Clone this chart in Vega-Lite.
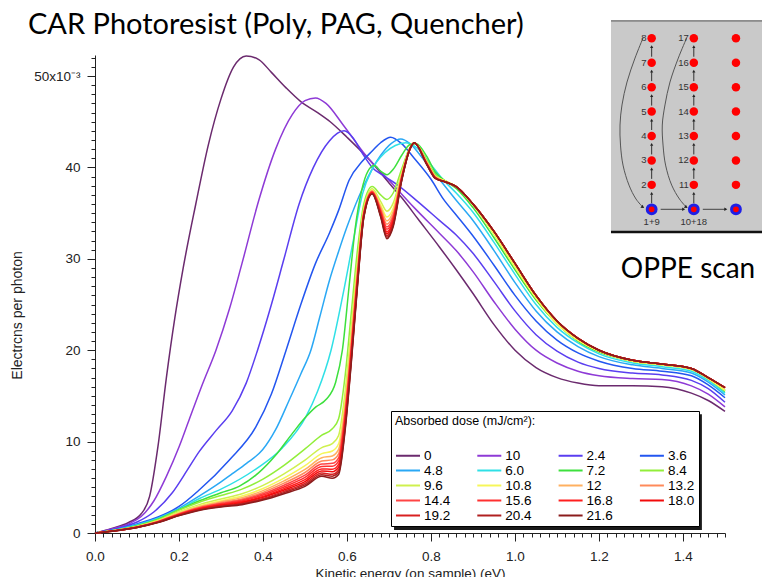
{
"$schema":"https://vega.github.io/schema/vega-lite/v6.json",
"width":630,"height":478,
"autosize":{"type":"none"},
"padding":{"left":95,"top":55,"right":37,"bottom":44},
"background":"white",
"config":{"view":{"stroke":null},"font":"Liberation Sans","axis":{"grid":false,"domainColor":"#222","tickColor":"#222","labelColor":"#222","titleColor":"#222","labelFont":"Liberation Sans","titleFont":"Liberation Sans"}},
"title":{"text":"CAR Photoresist (Poly, PAG, Quencher)","anchor":"start","frame":"group","dx":-67,"dy":40,"offset":20,"font":"Lato","fontSize":29,"fontWeight":"normal","color":"#000"},
"datasets":{
"curves":[
{"s":"0","x":0,"y":0},{"s":"0","x":0.04,"y":0.5},{"s":"0","x":0.08,"y":1.15},{"s":"0","x":0.11,"y":2.1},{"s":"0","x":0.13,"y":4},{"s":"0","x":0.15,"y":9.5},{"s":"0","x":0.17,"y":17},{"s":"0","x":0.19,"y":23.5},{"s":"0","x":0.21,"y":29},{"s":"0","x":0.24,"y":36},{"s":"0","x":0.27,"y":42.5},{"s":"0","x":0.3,"y":47.5},{"s":"0","x":0.33,"y":51},{"s":"0","x":0.36,"y":52.2},{"s":"0","x":0.39,"y":51.8},{"s":"0","x":0.42,"y":50.4},{"s":"0","x":0.455,"y":48.7},{"s":"0","x":0.49,"y":47.2},{"s":"0","x":0.53,"y":46},{"s":"0","x":0.56,"y":45},{"s":"0","x":0.6,"y":43.3},{"s":"0","x":0.65,"y":41},{"s":"0","x":0.7,"y":38.3},{"s":"0","x":0.73,"y":36.7},{"s":"0","x":0.77,"y":34.3},{"s":"0","x":0.82,"y":31.3},{"s":"0","x":0.86,"y":28.8},{"s":"0","x":0.9,"y":26.2},{"s":"0","x":0.95,"y":22.8},{"s":"0","x":1,"y":20},{"s":"0","x":1.05,"y":18.1},{"s":"0","x":1.1,"y":17},{"s":"0","x":1.15,"y":16.4},{"s":"0","x":1.2,"y":16.1},{"s":"0","x":1.28,"y":16.1},{"s":"0","x":1.35,"y":16},{"s":"0","x":1.42,"y":15.3},{"s":"0","x":1.46,"y":14.5},{"s":"0","x":1.5,"y":13.3},
{"s":"10","x":0,"y":0},{"s":"10","x":0.04,"y":0.45},{"s":"10","x":0.08,"y":1},{"s":"10","x":0.11,"y":1.8},{"s":"10","x":0.14,"y":3.5},{"s":"10","x":0.17,"y":6.2},{"s":"10","x":0.2,"y":9.4},{"s":"10","x":0.225,"y":12.5},{"s":"10","x":0.256,"y":16.3},{"s":"10","x":0.288,"y":20},{"s":"10","x":0.32,"y":24.5},{"s":"10","x":0.35,"y":29.5},{"s":"10","x":0.39,"y":36.4},{"s":"10","x":0.43,"y":42},{"s":"10","x":0.47,"y":45.8},{"s":"10","x":0.5,"y":47.3},{"s":"10","x":0.525,"y":47.6},{"s":"10","x":0.55,"y":47},{"s":"10","x":0.59,"y":44.7},{"s":"10","x":0.645,"y":41.3},{"s":"10","x":0.7,"y":38.6},{"s":"10","x":0.76,"y":35.6},{"s":"10","x":0.82,"y":32.8},{"s":"10","x":0.86,"y":30.9},{"s":"10","x":0.9,"y":28.6},{"s":"10","x":0.95,"y":25.3},{"s":"10","x":1,"y":22.3},{"s":"10","x":1.05,"y":20},{"s":"10","x":1.1,"y":18.6},{"s":"10","x":1.15,"y":17.7},{"s":"10","x":1.2,"y":17.2},{"s":"10","x":1.28,"y":16.9},{"s":"10","x":1.35,"y":16.8},{"s":"10","x":1.42,"y":16.1},{"s":"10","x":1.46,"y":15.2},{"s":"10","x":1.5,"y":13.8},
{"s":"2.4","x":0,"y":0},{"s":"2.4","x":0.05,"y":0.45},{"s":"2.4","x":0.1,"y":1.2},{"s":"2.4","x":0.14,"y":2.3},{"s":"2.4","x":0.184,"y":4.4},{"s":"2.4","x":0.22,"y":6.9},{"s":"2.4","x":0.248,"y":8.9},{"s":"2.4","x":0.288,"y":11.2},{"s":"2.4","x":0.327,"y":13.4},{"s":"2.4","x":0.36,"y":16.4},{"s":"2.4","x":0.387,"y":20},{"s":"2.4","x":0.42,"y":25},{"s":"2.4","x":0.45,"y":30},{"s":"2.4","x":0.486,"y":36},{"s":"2.4","x":0.52,"y":40},{"s":"2.4","x":0.558,"y":42.9},{"s":"2.4","x":0.593,"y":44},{"s":"2.4","x":0.615,"y":43.2},{"s":"2.4","x":0.637,"y":41.5},{"s":"2.4","x":0.66,"y":40},{"s":"2.4","x":0.69,"y":39},{"s":"2.4","x":0.72,"y":38.1},{"s":"2.4","x":0.77,"y":36.2},{"s":"2.4","x":0.82,"y":34.2},{"s":"2.4","x":0.86,"y":32.6},{"s":"2.4","x":0.9,"y":30.6},{"s":"2.4","x":0.95,"y":27.5},{"s":"2.4","x":1,"y":24.3},{"s":"2.4","x":1.05,"y":21.7},{"s":"2.4","x":1.1,"y":19.9},{"s":"2.4","x":1.15,"y":18.7},{"s":"2.4","x":1.2,"y":18},{"s":"2.4","x":1.28,"y":17.5},{"s":"2.4","x":1.35,"y":17.3},{"s":"2.4","x":1.42,"y":16.7},{"s":"2.4","x":1.46,"y":15.8},{"s":"2.4","x":1.5,"y":14.3},
{"s":"3.6","x":0,"y":0},{"s":"3.6","x":0.05,"y":0.4},{"s":"3.6","x":0.1,"y":1},{"s":"3.6","x":0.15,"y":1.75},{"s":"3.6","x":0.2,"y":2.9},{"s":"3.6","x":0.248,"y":4.7},{"s":"3.6","x":0.32,"y":8},{"s":"3.6","x":0.383,"y":11.6},{"s":"3.6","x":0.42,"y":15.2},{"s":"3.6","x":0.455,"y":20},{"s":"3.6","x":0.49,"y":25},{"s":"3.6","x":0.525,"y":29.5},{"s":"3.6","x":0.558,"y":32.8},{"s":"3.6","x":0.58,"y":35.3},{"s":"3.6","x":0.605,"y":38.6},{"s":"3.6","x":0.637,"y":40.7},{"s":"3.6","x":0.66,"y":41.8},{"s":"3.6","x":0.68,"y":42.7},{"s":"3.6","x":0.704,"y":43.3},{"s":"3.6","x":0.73,"y":42.6},{"s":"3.6","x":0.76,"y":41},{"s":"3.6","x":0.8,"y":38.7},{"s":"3.6","x":0.83,"y":36.5},{"s":"3.6","x":0.86,"y":34.8},{"s":"3.6","x":0.9,"y":32.5},{"s":"3.6","x":0.95,"y":29.3},{"s":"3.6","x":1,"y":26},{"s":"3.6","x":1.05,"y":23.2},{"s":"3.6","x":1.1,"y":21.1},{"s":"3.6","x":1.15,"y":19.7},{"s":"3.6","x":1.2,"y":18.8},{"s":"3.6","x":1.28,"y":18},{"s":"3.6","x":1.35,"y":17.7},{"s":"3.6","x":1.42,"y":17.2},{"s":"3.6","x":1.46,"y":16.2},{"s":"3.6","x":1.5,"y":14.8},
{"s":"4.8","x":0,"y":0},{"s":"4.8","x":0.05,"y":0.37},{"s":"4.8","x":0.1,"y":0.92},{"s":"4.8","x":0.15,"y":1.65},{"s":"4.8","x":0.2,"y":2.7},{"s":"4.8","x":0.25,"y":4.1},{"s":"4.8","x":0.3,"y":5.6},{"s":"4.8","x":0.327,"y":6.5},{"s":"4.8","x":0.36,"y":7.6},{"s":"4.8","x":0.399,"y":9.1},{"s":"4.8","x":0.43,"y":11.3},{"s":"4.8","x":0.462,"y":14.5},{"s":"4.8","x":0.49,"y":17.4},{"s":"4.8","x":0.514,"y":20},{"s":"4.8","x":0.535,"y":23.6},{"s":"4.8","x":0.558,"y":27.6},{"s":"4.8","x":0.58,"y":30.8},{"s":"4.8","x":0.6,"y":33.5},{"s":"4.8","x":0.64,"y":38},{"s":"4.8","x":0.68,"y":41.3},{"s":"4.8","x":0.705,"y":42.6},{"s":"4.8","x":0.728,"y":43.1},{"s":"4.8","x":0.75,"y":42.6},{"s":"4.8","x":0.78,"y":41},{"s":"4.8","x":0.82,"y":38.7},{"s":"4.8","x":0.86,"y":36.4},{"s":"4.8","x":0.9,"y":34.2},{"s":"4.8","x":0.95,"y":30.9},{"s":"4.8","x":1,"y":27.4},{"s":"4.8","x":1.05,"y":24.3},{"s":"4.8","x":1.1,"y":22},{"s":"4.8","x":1.15,"y":20.4},{"s":"4.8","x":1.2,"y":19.3},{"s":"4.8","x":1.28,"y":18.4},{"s":"4.8","x":1.35,"y":18},{"s":"4.8","x":1.42,"y":17.5},{"s":"4.8","x":1.46,"y":16.5},{"s":"4.8","x":1.5,"y":15.1},
{"s":"6.0","x":0,"y":0},{"s":"6.0","x":0.05,"y":0.34},{"s":"6.0","x":0.1,"y":0.86},{"s":"6.0","x":0.15,"y":1.58},{"s":"6.0","x":0.2,"y":2.6},{"s":"6.0","x":0.25,"y":3.8},{"s":"6.0","x":0.3,"y":4.8},{"s":"6.0","x":0.383,"y":7},{"s":"6.0","x":0.446,"y":9.3},{"s":"6.0","x":0.502,"y":12.7},{"s":"6.0","x":0.53,"y":15.5},{"s":"6.0","x":0.562,"y":20},{"s":"6.0","x":0.59,"y":26},{"s":"6.0","x":0.615,"y":32},{"s":"6.0","x":0.637,"y":37.1},{"s":"6.0","x":0.66,"y":39.8},{"s":"6.0","x":0.69,"y":41.6},{"s":"6.0","x":0.715,"y":42.4},{"s":"6.0","x":0.74,"y":42.7},{"s":"6.0","x":0.77,"y":42},{"s":"6.0","x":0.8,"y":40.3},{"s":"6.0","x":0.83,"y":38.6},{"s":"6.0","x":0.86,"y":37.2},{"s":"6.0","x":0.9,"y":35.1},{"s":"6.0","x":0.95,"y":31.8},{"s":"6.0","x":1,"y":28.3},{"s":"6.0","x":1.05,"y":25},{"s":"6.0","x":1.1,"y":22.5},{"s":"6.0","x":1.15,"y":20.8},{"s":"6.0","x":1.2,"y":19.6},{"s":"6.0","x":1.28,"y":18.6},{"s":"6.0","x":1.35,"y":18.2},{"s":"6.0","x":1.42,"y":17.7},{"s":"6.0","x":1.46,"y":16.7},{"s":"6.0","x":1.5,"y":15.3},
{"s":"7.2","x":0,"y":0},{"s":"7.2","x":0.05,"y":0.32},{"s":"7.2","x":0.1,"y":0.8},{"s":"7.2","x":0.15,"y":1.52},{"s":"7.2","x":0.2,"y":2.55},{"s":"7.2","x":0.25,"y":3.55},{"s":"7.2","x":0.3,"y":4.4},{"s":"7.2","x":0.343,"y":5.1},{"s":"7.2","x":0.39,"y":6.6},{"s":"7.2","x":0.43,"y":8.5},{"s":"7.2","x":0.47,"y":10.9},{"s":"7.2","x":0.5,"y":12.6},{"s":"7.2","x":0.526,"y":13.8},{"s":"7.2","x":0.55,"y":14.6},{"s":"7.2","x":0.573,"y":16.5},{"s":"7.2","x":0.589,"y":20},{"s":"7.2","x":0.605,"y":27},{"s":"7.2","x":0.62,"y":33.5},{"s":"7.2","x":0.635,"y":37.5},{"s":"7.2","x":0.65,"y":39.6},{"s":"7.2","x":0.665,"y":40.2},{"s":"7.2","x":0.68,"y":39.6},{"s":"7.2","x":0.695,"y":39.2},{"s":"7.2","x":0.71,"y":39.8},{"s":"7.2","x":0.73,"y":41.3},{"s":"7.2","x":0.75,"y":42.5},{"s":"7.2","x":0.765,"y":42.6},{"s":"7.2","x":0.79,"y":41.2},{"s":"7.2","x":0.81,"y":39.5},{"s":"7.2","x":0.835,"y":38.5},{"s":"7.2","x":0.86,"y":37.7},{"s":"7.2","x":0.9,"y":35.6},{"s":"7.2","x":0.95,"y":32.3},{"s":"7.2","x":1,"y":28.8},{"s":"7.2","x":1.05,"y":25.5},{"s":"7.2","x":1.1,"y":22.9},{"s":"7.2","x":1.15,"y":21},{"s":"7.2","x":1.2,"y":19.8},{"s":"7.2","x":1.28,"y":18.8},{"s":"7.2","x":1.35,"y":18.4},{"s":"7.2","x":1.42,"y":17.9},{"s":"7.2","x":1.46,"y":16.9},{"s":"7.2","x":1.5,"y":15.5},
{"s":"8.4","x":0,"y":0},{"s":"8.4","x":0.05,"y":0.3},{"s":"8.4","x":0.1,"y":0.75},{"s":"8.4","x":0.15,"y":1.45},{"s":"8.4","x":0.2,"y":2.5},{"s":"8.4","x":0.25,"y":3.4},{"s":"8.4","x":0.3,"y":4.1},{"s":"8.4","x":0.35,"y":4.8},{"s":"8.4","x":0.4,"y":5.9},{"s":"8.4","x":0.45,"y":7.4},{"s":"8.4","x":0.5,"y":9.2},{"s":"8.4","x":0.54,"y":10.7},{"s":"8.4","x":0.565,"y":11.4},{"s":"8.4","x":0.58,"y":12.5},{"s":"8.4","x":0.595,"y":17},{"s":"8.4","x":0.61,"y":24},{"s":"8.4","x":0.625,"y":31},{"s":"8.4","x":0.64,"y":36},{"s":"8.4","x":0.66,"y":37.9},{"s":"8.4","x":0.68,"y":37},{"s":"8.4","x":0.695,"y":36.5},{"s":"8.4","x":0.71,"y":37.2},{"s":"8.4","x":0.73,"y":39.8},{"s":"8.4","x":0.75,"y":42.2},{"s":"8.4","x":0.76,"y":42.7},{"s":"8.4","x":0.79,"y":40.8},{"s":"8.4","x":0.81,"y":39.2},{"s":"8.4","x":0.835,"y":38.5},{"s":"8.4","x":0.86,"y":37.9},{"s":"8.4","x":0.9,"y":35.9},{"s":"8.4","x":0.95,"y":32.7},{"s":"8.4","x":1,"y":29.1},{"s":"8.4","x":1.05,"y":25.7},{"s":"8.4","x":1.1,"y":22.9},{"s":"8.4","x":1.15,"y":21.1},{"s":"8.4","x":1.2,"y":19.9},{"s":"8.4","x":1.28,"y":18.8},{"s":"8.4","x":1.35,"y":18.4},{"s":"8.4","x":1.42,"y":17.9},{"s":"8.4","x":1.46,"y":16.9},{"s":"8.4","x":1.5,"y":15.6},
{"s":"9.6","x":0,"y":0},{"s":"9.6","x":0.05,"y":0.29},{"s":"9.6","x":0.1,"y":0.71},{"s":"9.6","x":0.15,"y":1.36},{"s":"9.6","x":0.2,"y":2.32},{"s":"9.6","x":0.25,"y":3.13},{"s":"9.6","x":0.3,"y":3.73},{"s":"9.6","x":0.35,"y":4.29},{"s":"9.6","x":0.4,"y":5.21},{"s":"9.6","x":0.45,"y":6.47},{"s":"9.6","x":0.5,"y":7.97},{"s":"9.6","x":0.54,"y":9.35},{"s":"9.6","x":0.565,"y":9.78},{"s":"9.6","x":0.58,"y":10.67},{"s":"9.6","x":0.595,"y":15.2},{"s":"9.6","x":0.61,"y":22.35},{"s":"9.6","x":0.625,"y":29.8},{"s":"9.6","x":0.64,"y":35.55},{"s":"9.6","x":0.66,"y":37.66},{"s":"9.6","x":0.68,"y":36.28},{"s":"9.6","x":0.695,"y":35.21},{"s":"9.6","x":0.71,"y":36.09},{"s":"9.6","x":0.73,"y":39.41},{"s":"9.6","x":0.75,"y":42.14},{"s":"9.6","x":0.76,"y":42.7},{"s":"9.6","x":0.79,"y":40.65},{"s":"9.6","x":0.81,"y":39.08},{"s":"9.6","x":0.835,"y":38.5},{"s":"9.6","x":0.86,"y":37.9},{"s":"9.6","x":0.9,"y":35.9},{"s":"9.6","x":0.95,"y":32.7},{"s":"9.6","x":1,"y":29.1},{"s":"9.6","x":1.05,"y":25.7},{"s":"9.6","x":1.1,"y":22.9},{"s":"9.6","x":1.15,"y":21.1},{"s":"9.6","x":1.2,"y":19.9},{"s":"9.6","x":1.28,"y":18.8},{"s":"9.6","x":1.35,"y":18.4},{"s":"9.6","x":1.42,"y":17.9},{"s":"9.6","x":1.46,"y":16.9},{"s":"9.6","x":1.5,"y":15.6},
{"s":"10.8","x":0,"y":0},{"s":"10.8","x":0.05,"y":0.28},{"s":"10.8","x":0.1,"y":0.68},{"s":"10.8","x":0.15,"y":1.32},{"s":"10.8","x":0.2,"y":2.23},{"s":"10.8","x":0.25,"y":2.99},{"s":"10.8","x":0.3,"y":3.54},{"s":"10.8","x":0.35,"y":4.04},{"s":"10.8","x":0.4,"y":4.87},{"s":"10.8","x":0.45,"y":6},{"s":"10.8","x":0.5,"y":7.36},{"s":"10.8","x":0.54,"y":8.68},{"s":"10.8","x":0.565,"y":8.97},{"s":"10.8","x":0.58,"y":9.76},{"s":"10.8","x":0.595,"y":14.3},{"s":"10.8","x":0.61,"y":21.5},{"s":"10.8","x":0.625,"y":29.2},{"s":"10.8","x":0.64,"y":35.3},{"s":"10.8","x":0.66,"y":37.54},{"s":"10.8","x":0.68,"y":35.92},{"s":"10.8","x":0.695,"y":34.57},{"s":"10.8","x":0.71,"y":35.54},{"s":"10.8","x":0.73,"y":39.22},{"s":"10.8","x":0.75,"y":42.11},{"s":"10.8","x":0.76,"y":42.7},{"s":"10.8","x":0.79,"y":40.58},{"s":"10.8","x":0.81,"y":39.02},{"s":"10.8","x":0.835,"y":38.5},{"s":"10.8","x":0.86,"y":37.9},{"s":"10.8","x":0.9,"y":35.9},{"s":"10.8","x":0.95,"y":32.7},{"s":"10.8","x":1,"y":29.1},{"s":"10.8","x":1.05,"y":25.7},{"s":"10.8","x":1.1,"y":22.9},{"s":"10.8","x":1.15,"y":21.1},{"s":"10.8","x":1.2,"y":19.9},{"s":"10.8","x":1.28,"y":18.8},{"s":"10.8","x":1.35,"y":18.4},{"s":"10.8","x":1.42,"y":17.9},{"s":"10.8","x":1.46,"y":16.9},{"s":"10.8","x":1.5,"y":15.6},
{"s":"12","x":0,"y":0},{"s":"12","x":0.05,"y":0.27},{"s":"12","x":0.1,"y":0.67},{"s":"12","x":0.15,"y":1.29},{"s":"12","x":0.2,"y":2.17},{"s":"12","x":0.25,"y":2.9},{"s":"12","x":0.3,"y":3.41},{"s":"12","x":0.35,"y":3.87},{"s":"12","x":0.4,"y":4.64},{"s":"12","x":0.45,"y":5.7},{"s":"12","x":0.5,"y":6.95},{"s":"12","x":0.54,"y":8.23},{"s":"12","x":0.565,"y":8.43},{"s":"12","x":0.58,"y":9.15},{"s":"12","x":0.595,"y":13.7},{"s":"12","x":0.61,"y":21},{"s":"12","x":0.625,"y":28.8},{"s":"12","x":0.64,"y":35.2},{"s":"12","x":0.66,"y":37.46},{"s":"12","x":0.68,"y":35.68},{"s":"12","x":0.695,"y":34.14},{"s":"12","x":0.71,"y":35.17},{"s":"12","x":0.73,"y":39.09},{"s":"12","x":0.75,"y":42.09},{"s":"12","x":0.76,"y":42.7},{"s":"12","x":0.79,"y":40.53},{"s":"12","x":0.81,"y":38.98},{"s":"12","x":0.835,"y":38.4},{"s":"12","x":0.86,"y":37.9},{"s":"12","x":0.9,"y":36},{"s":"12","x":0.95,"y":33},{"s":"12","x":1,"y":29.5},{"s":"12","x":1.05,"y":26},{"s":"12","x":1.1,"y":23.2},{"s":"12","x":1.15,"y":21.3},{"s":"12","x":1.2,"y":20},{"s":"12","x":1.28,"y":18.9},{"s":"12","x":1.35,"y":18.5},{"s":"12","x":1.42,"y":18},{"s":"12","x":1.46,"y":17},{"s":"12","x":1.5,"y":15.9},
{"s":"13.2","x":0,"y":0},{"s":"13.2","x":0.05,"y":0.27},{"s":"13.2","x":0.1,"y":0.66},{"s":"13.2","x":0.15,"y":1.26},{"s":"13.2","x":0.2,"y":2.12},{"s":"13.2","x":0.25,"y":2.83},{"s":"13.2","x":0.3,"y":3.31},{"s":"13.2","x":0.35,"y":3.73},{"s":"13.2","x":0.4,"y":4.45},{"s":"13.2","x":0.45,"y":5.45},{"s":"13.2","x":0.5,"y":6.62},{"s":"13.2","x":0.54,"y":7.87},{"s":"13.2","x":0.565,"y":8},{"s":"13.2","x":0.58,"y":8.66},{"s":"13.2","x":0.595,"y":13.2},{"s":"13.2","x":0.61,"y":20.5},{"s":"13.2","x":0.625,"y":28.5},{"s":"13.2","x":0.64,"y":35.05},{"s":"13.2","x":0.66,"y":37.4},{"s":"13.2","x":0.68,"y":35.49},{"s":"13.2","x":0.695,"y":33.79},{"s":"13.2","x":0.71,"y":34.87},{"s":"13.2","x":0.73,"y":38.98},{"s":"13.2","x":0.75,"y":42.07},{"s":"13.2","x":0.76,"y":42.7},{"s":"13.2","x":0.79,"y":40.49},{"s":"13.2","x":0.81,"y":38.95},{"s":"13.2","x":0.835,"y":38.4},{"s":"13.2","x":0.86,"y":37.9},{"s":"13.2","x":0.9,"y":36},{"s":"13.2","x":0.95,"y":33},{"s":"13.2","x":1,"y":29.5},{"s":"13.2","x":1.05,"y":26},{"s":"13.2","x":1.1,"y":23.2},{"s":"13.2","x":1.15,"y":21.3},{"s":"13.2","x":1.2,"y":20},{"s":"13.2","x":1.28,"y":18.9},{"s":"13.2","x":1.35,"y":18.5},{"s":"13.2","x":1.42,"y":18},{"s":"13.2","x":1.46,"y":17},{"s":"13.2","x":1.5,"y":15.9},
{"s":"14.4","x":0,"y":0},{"s":"14.4","x":0.05,"y":0.27},{"s":"14.4","x":0.1,"y":0.65},{"s":"14.4","x":0.15,"y":1.24},{"s":"14.4","x":0.2,"y":2.08},{"s":"14.4","x":0.25,"y":2.77},{"s":"14.4","x":0.3,"y":3.23},{"s":"14.4","x":0.35,"y":3.61},{"s":"14.4","x":0.4,"y":4.29},{"s":"14.4","x":0.45,"y":5.23},{"s":"14.4","x":0.5,"y":6.33},{"s":"14.4","x":0.54,"y":7.55},{"s":"14.4","x":0.565,"y":7.62},{"s":"14.4","x":0.58,"y":8.23},{"s":"14.4","x":0.595,"y":12.8},{"s":"14.4","x":0.61,"y":20.15},{"s":"14.4","x":0.625,"y":28.2},{"s":"14.4","x":0.64,"y":34.95},{"s":"14.4","x":0.66,"y":37.34},{"s":"14.4","x":0.68,"y":35.32},{"s":"14.4","x":0.695,"y":33.49},{"s":"14.4","x":0.71,"y":34.61},{"s":"14.4","x":0.73,"y":38.89},{"s":"14.4","x":0.75,"y":42.06},{"s":"14.4","x":0.76,"y":42.7},{"s":"14.4","x":0.79,"y":40.45},{"s":"14.4","x":0.81,"y":38.92},{"s":"14.4","x":0.835,"y":38.4},{"s":"14.4","x":0.86,"y":37.9},{"s":"14.4","x":0.9,"y":36},{"s":"14.4","x":0.95,"y":33},{"s":"14.4","x":1,"y":29.5},{"s":"14.4","x":1.05,"y":26},{"s":"14.4","x":1.1,"y":23.2},{"s":"14.4","x":1.15,"y":21.3},{"s":"14.4","x":1.2,"y":20},{"s":"14.4","x":1.28,"y":18.9},{"s":"14.4","x":1.35,"y":18.5},{"s":"14.4","x":1.42,"y":18},{"s":"14.4","x":1.46,"y":17},{"s":"14.4","x":1.5,"y":15.9},
{"s":"15.6","x":0,"y":0},{"s":"15.6","x":0.05,"y":0.26},{"s":"15.6","x":0.1,"y":0.64},{"s":"15.6","x":0.15,"y":1.22},{"s":"15.6","x":0.2,"y":2.04},{"s":"15.6","x":0.25,"y":2.72},{"s":"15.6","x":0.3,"y":3.15},{"s":"15.6","x":0.35,"y":3.51},{"s":"15.6","x":0.4,"y":4.15},{"s":"15.6","x":0.45,"y":5.04},{"s":"15.6","x":0.5,"y":6.08},{"s":"15.6","x":0.54,"y":7.28},{"s":"15.6","x":0.565,"y":7.3},{"s":"15.6","x":0.58,"y":7.86},{"s":"15.6","x":0.595,"y":12.4},{"s":"15.6","x":0.61,"y":19.8},{"s":"15.6","x":0.625,"y":28},{"s":"15.6","x":0.64,"y":34.9},{"s":"15.6","x":0.66,"y":37.29},{"s":"15.6","x":0.68,"y":35.18},{"s":"15.6","x":0.695,"y":33.23},{"s":"15.6","x":0.71,"y":34.39},{"s":"15.6","x":0.73,"y":38.81},{"s":"15.6","x":0.75,"y":42.05},{"s":"15.6","x":0.76,"y":42.7},{"s":"15.6","x":0.79,"y":40.42},{"s":"15.6","x":0.81,"y":38.9},{"s":"15.6","x":0.835,"y":38.4},{"s":"15.6","x":0.86,"y":37.9},{"s":"15.6","x":0.9,"y":36},{"s":"15.6","x":0.95,"y":33},{"s":"15.6","x":1,"y":29.5},{"s":"15.6","x":1.05,"y":26},{"s":"15.6","x":1.1,"y":23.2},{"s":"15.6","x":1.15,"y":21.3},{"s":"15.6","x":1.2,"y":20},{"s":"15.6","x":1.28,"y":18.9},{"s":"15.6","x":1.35,"y":18.5},{"s":"15.6","x":1.42,"y":18},{"s":"15.6","x":1.46,"y":17},{"s":"15.6","x":1.5,"y":15.9},
{"s":"16.8","x":0,"y":0},{"s":"16.8","x":0.05,"y":0.26},{"s":"16.8","x":0.1,"y":0.63},{"s":"16.8","x":0.15,"y":1.2},{"s":"16.8","x":0.2,"y":2.01},{"s":"16.8","x":0.25,"y":2.66},{"s":"16.8","x":0.3,"y":3.08},{"s":"16.8","x":0.35,"y":3.41},{"s":"16.8","x":0.4,"y":4.01},{"s":"16.8","x":0.45,"y":4.86},{"s":"16.8","x":0.5,"y":5.84},{"s":"16.8","x":0.54,"y":7.01},{"s":"16.8","x":0.565,"y":6.97},{"s":"16.8","x":0.58,"y":7.5},{"s":"16.8","x":0.595,"y":12.1},{"s":"16.8","x":0.61,"y":19.5},{"s":"16.8","x":0.625,"y":27.7},{"s":"16.8","x":0.64,"y":34.8},{"s":"16.8","x":0.66,"y":37.24},{"s":"16.8","x":0.68,"y":35.03},{"s":"16.8","x":0.695,"y":32.97},{"s":"16.8","x":0.71,"y":34.17},{"s":"16.8","x":0.73,"y":38.73},{"s":"16.8","x":0.75,"y":42.04},{"s":"16.8","x":0.76,"y":42.7},{"s":"16.8","x":0.79,"y":40.39},{"s":"16.8","x":0.81,"y":38.87},{"s":"16.8","x":0.835,"y":38.4},{"s":"16.8","x":0.86,"y":37.9},{"s":"16.8","x":0.9,"y":36},{"s":"16.8","x":0.95,"y":33},{"s":"16.8","x":1,"y":29.5},{"s":"16.8","x":1.05,"y":26},{"s":"16.8","x":1.1,"y":23.2},{"s":"16.8","x":1.15,"y":21.3},{"s":"16.8","x":1.2,"y":20},{"s":"16.8","x":1.28,"y":18.9},{"s":"16.8","x":1.35,"y":18.5},{"s":"16.8","x":1.42,"y":18},{"s":"16.8","x":1.46,"y":17},{"s":"16.8","x":1.5,"y":15.9},
{"s":"18.0","x":0,"y":0},{"s":"18.0","x":0.05,"y":0.26},{"s":"18.0","x":0.1,"y":0.62},{"s":"18.0","x":0.15,"y":1.19},{"s":"18.0","x":0.2,"y":1.98},{"s":"18.0","x":0.25,"y":2.62},{"s":"18.0","x":0.3,"y":3.01},{"s":"18.0","x":0.35,"y":3.32},{"s":"18.0","x":0.4,"y":3.9},{"s":"18.0","x":0.45,"y":4.7},{"s":"18.0","x":0.5,"y":5.63},{"s":"18.0","x":0.54,"y":6.79},{"s":"18.0","x":0.565,"y":6.7},{"s":"18.0","x":0.58,"y":7.19},{"s":"18.0","x":0.595,"y":11.8},{"s":"18.0","x":0.61,"y":19.2},{"s":"18.0","x":0.625,"y":27.5},{"s":"18.0","x":0.64,"y":34.7},{"s":"18.0","x":0.66,"y":37.2},{"s":"18.0","x":0.68,"y":34.91},{"s":"18.0","x":0.695,"y":32.76},{"s":"18.0","x":0.71,"y":33.98},{"s":"18.0","x":0.73,"y":38.67},{"s":"18.0","x":0.75,"y":42.03},{"s":"18.0","x":0.76,"y":42.7},{"s":"18.0","x":0.79,"y":40.37},{"s":"18.0","x":0.81,"y":38.85},{"s":"18.0","x":0.835,"y":38.4},{"s":"18.0","x":0.86,"y":37.9},{"s":"18.0","x":0.9,"y":36},{"s":"18.0","x":0.95,"y":33},{"s":"18.0","x":1,"y":29.5},{"s":"18.0","x":1.05,"y":26},{"s":"18.0","x":1.1,"y":23.2},{"s":"18.0","x":1.15,"y":21.3},{"s":"18.0","x":1.2,"y":20},{"s":"18.0","x":1.28,"y":18.9},{"s":"18.0","x":1.35,"y":18.5},{"s":"18.0","x":1.42,"y":18},{"s":"18.0","x":1.46,"y":17},{"s":"18.0","x":1.5,"y":15.9},
{"s":"19.2","x":0,"y":0},{"s":"19.2","x":0.05,"y":0.25},{"s":"19.2","x":0.1,"y":0.61},{"s":"19.2","x":0.15,"y":1.17},{"s":"19.2","x":0.2,"y":1.95},{"s":"19.2","x":0.25,"y":2.57},{"s":"19.2","x":0.3,"y":2.95},{"s":"19.2","x":0.35,"y":3.24},{"s":"19.2","x":0.4,"y":3.78},{"s":"19.2","x":0.45,"y":4.55},{"s":"19.2","x":0.5,"y":5.43},{"s":"19.2","x":0.54,"y":6.56},{"s":"19.2","x":0.565,"y":6.43},{"s":"19.2","x":0.58,"y":6.89},{"s":"19.2","x":0.595,"y":11.5},{"s":"19.2","x":0.61,"y":18.9},{"s":"19.2","x":0.625,"y":27.3},{"s":"19.2","x":0.64,"y":34.6},{"s":"19.2","x":0.66,"y":37.16},{"s":"19.2","x":0.68,"y":34.79},{"s":"19.2","x":0.695,"y":32.54},{"s":"19.2","x":0.71,"y":33.8},{"s":"19.2","x":0.73,"y":38.6},{"s":"19.2","x":0.75,"y":42.02},{"s":"19.2","x":0.76,"y":42.7},{"s":"19.2","x":0.79,"y":40.34},{"s":"19.2","x":0.81,"y":38.83},{"s":"19.2","x":0.835,"y":38.4},{"s":"19.2","x":0.86,"y":37.9},{"s":"19.2","x":0.9,"y":36},{"s":"19.2","x":0.95,"y":33},{"s":"19.2","x":1,"y":29.5},{"s":"19.2","x":1.05,"y":26},{"s":"19.2","x":1.1,"y":23.2},{"s":"19.2","x":1.15,"y":21.3},{"s":"19.2","x":1.2,"y":20},{"s":"19.2","x":1.28,"y":18.9},{"s":"19.2","x":1.35,"y":18.5},{"s":"19.2","x":1.42,"y":18},{"s":"19.2","x":1.46,"y":17},{"s":"19.2","x":1.5,"y":15.9},
{"s":"20.4","x":0,"y":0},{"s":"20.4","x":0.05,"y":0.25},{"s":"20.4","x":0.1,"y":0.61},{"s":"20.4","x":0.15,"y":1.16},{"s":"20.4","x":0.2,"y":1.92},{"s":"20.4","x":0.25,"y":2.54},{"s":"20.4","x":0.3,"y":2.9},{"s":"20.4","x":0.35,"y":3.17},{"s":"20.4","x":0.4,"y":3.69},{"s":"20.4","x":0.45,"y":4.42},{"s":"20.4","x":0.5,"y":5.26},{"s":"20.4","x":0.54,"y":6.38},{"s":"20.4","x":0.565,"y":6.22},{"s":"20.4","x":0.58,"y":6.64},{"s":"20.4","x":0.595,"y":11.2},{"s":"20.4","x":0.61,"y":18.7},{"s":"20.4","x":0.625,"y":27.2},{"s":"20.4","x":0.64,"y":34.55},{"s":"20.4","x":0.66,"y":37.13},{"s":"20.4","x":0.68,"y":34.7},{"s":"20.4","x":0.695,"y":32.37},{"s":"20.4","x":0.71,"y":33.65},{"s":"20.4","x":0.73,"y":38.55},{"s":"20.4","x":0.75,"y":42.01},{"s":"20.4","x":0.76,"y":42.7},{"s":"20.4","x":0.79,"y":40.32},{"s":"20.4","x":0.81,"y":38.82},{"s":"20.4","x":0.835,"y":38.4},{"s":"20.4","x":0.86,"y":37.9},{"s":"20.4","x":0.9,"y":36},{"s":"20.4","x":0.95,"y":33},{"s":"20.4","x":1,"y":29.5},{"s":"20.4","x":1.05,"y":26},{"s":"20.4","x":1.1,"y":23.2},{"s":"20.4","x":1.15,"y":21.3},{"s":"20.4","x":1.2,"y":20},{"s":"20.4","x":1.28,"y":18.9},{"s":"20.4","x":1.35,"y":18.5},{"s":"20.4","x":1.42,"y":18},{"s":"20.4","x":1.46,"y":17},{"s":"20.4","x":1.5,"y":15.9},
{"s":"21.6","x":0,"y":0},{"s":"21.6","x":0.05,"y":0.25},{"s":"21.6","x":0.1,"y":0.6},{"s":"21.6","x":0.15,"y":1.15},{"s":"21.6","x":0.2,"y":1.9},{"s":"21.6","x":0.25,"y":2.5},{"s":"21.6","x":0.3,"y":2.85},{"s":"21.6","x":0.35,"y":3.1},{"s":"21.6","x":0.4,"y":3.6},{"s":"21.6","x":0.45,"y":4.3},{"s":"21.6","x":0.5,"y":5.1},{"s":"21.6","x":0.54,"y":6.2},{"s":"21.6","x":0.565,"y":6},{"s":"21.6","x":0.58,"y":6.4},{"s":"21.6","x":0.595,"y":11},{"s":"21.6","x":0.61,"y":18.5},{"s":"21.6","x":0.625,"y":27},{"s":"21.6","x":0.64,"y":34.5},{"s":"21.6","x":0.66,"y":37.1},{"s":"21.6","x":0.68,"y":34.6},{"s":"21.6","x":0.695,"y":32.2},{"s":"21.6","x":0.71,"y":33.5},{"s":"21.6","x":0.73,"y":38.5},{"s":"21.6","x":0.75,"y":42},{"s":"21.6","x":0.76,"y":42.7},{"s":"21.6","x":0.79,"y":40.3},{"s":"21.6","x":0.81,"y":38.8},{"s":"21.6","x":0.835,"y":38.4},{"s":"21.6","x":0.86,"y":37.9},{"s":"21.6","x":0.9,"y":36},{"s":"21.6","x":0.95,"y":33},{"s":"21.6","x":1,"y":29.5},{"s":"21.6","x":1.05,"y":26},{"s":"21.6","x":1.1,"y":23.2},{"s":"21.6","x":1.15,"y":21.3},{"s":"21.6","x":1.2,"y":20},{"s":"21.6","x":1.28,"y":18.9},{"s":"21.6","x":1.35,"y":18.5},{"s":"21.6","x":1.42,"y":18},{"s":"21.6","x":1.46,"y":17},{"s":"21.6","x":1.5,"y":15.9}
],
"dots":[
{"c":1,"r":1,"t":"1+9"},{"c":1,"r":2,"t":"2"},{"c":1,"r":3,"t":"3"},{"c":1,"r":4,"t":"4"},{"c":1,"r":5,"t":"5"},{"c":1,"r":6,"t":"6"},{"c":1,"r":7,"t":"7"},{"c":1,"r":8,"t":"8"},
{"c":2,"r":1,"t":"10+18"},{"c":2,"r":2,"t":"11"},{"c":2,"r":3,"t":"12"},{"c":2,"r":4,"t":"13"},{"c":2,"r":5,"t":"14"},{"c":2,"r":6,"t":"15"},{"c":2,"r":7,"t":"16"},{"c":2,"r":8,"t":"17"},
{"c":3,"r":1,"t":""},{"c":3,"r":2,"t":""},{"c":3,"r":3,"t":""},{"c":3,"r":4,"t":""},{"c":3,"r":5,"t":""},{"c":3,"r":6,"t":""},{"c":3,"r":7,"t":""},{"c":3,"r":8,"t":""}
],
"arcs":[
{"a":1,"c":0.795,"r":8.01},{"a":1,"c":0.605,"r":7.19},{"a":1,"c":0.415,"r":6.21},{"a":1,"c":0.296,"r":5.27},{"a":1,"c":0.249,"r":4.45},{"a":1,"c":0.261,"r":3.63},{"a":1,"c":0.32,"r":2.81},{"a":1,"c":0.462,"r":1.99},{"a":1,"c":0.629,"r":1.42},{"a":1,"c":0.79,"r":1.09},
{"a":2,"c":1.83,"r":8.01},{"a":2,"c":1.632,"r":7.19},{"a":2,"c":1.435,"r":6.21},{"a":2,"c":1.316,"r":5.27},{"a":2,"c":1.252,"r":4.45},{"a":2,"c":1.27,"r":3.63},{"a":2,"c":1.33,"r":2.81},{"a":2,"c":1.475,"r":1.99},{"a":2,"c":1.66,"r":1.42},{"a":2,"c":1.82,"r":1.09}
]
},
"layer":[
{
"layer":[
{"data":{"values":[{}]},"mark":{"type":"rect","color":"#1a1a1a"},
"encoding":{
"x":{"datum":0.712,"type":"quantitative","scale":{"domain":[0,1.5],"nice":false,"zero":false},"axis":{"orient":"bottom","values":[0,0.2,0.4,0.6,0.8,1,1.2,1.4],"format":".1f","tickSize":8,"domain":false,"labelFontSize":13.5,"labelPadding":8,"labelFlush":false,"labelOverlap":false,"title":"Kinetic energy (on sample) (eV)","titleFontSize":13.5,"titleFontWeight":"normal","titleY":33,"titleBaseline":"top","grid":false}},
"x2":{"datum":1.445},
"y":{"datum":0.33,"type":"quantitative","scale":{"domain":[0,52.3],"nice":false,"zero":false},"axis":{"orient":"left","values":[0,10,20,30,40,50],"tickSize":8,"domain":false,"labelFontSize":13.5,"labelPadding":7,"labelOverlap":false,"labelExpr":"datum.value === 50 ? '50x10⁻³' : datum.label","title":"Electrcns per photon","titleFontSize":14,"titleFontWeight":"normal","titleX":-78,"titleY":260,"titleAngle":-90,"titleAlign":"center","titleBaseline":"middle","grid":false}},
"y2":{"datum":13.0}}},
{"data":{"name":"curves"},"mark":{"type":"line","interpolate":"monotone","strokeWidth":1.5},
"encoding":{
"x":{"field":"x","type":"quantitative","scale":{"domain":[0,1.5],"nice":false,"zero":false},"axis":{"orient":"bottom","tickCount":75,"tickSize":4,"labels":false,"title":null,"grid":false}},
"y":{"field":"y","type":"quantitative","scale":{"domain":[0,52.3],"nice":false,"zero":false},"axis":{"orient":"left","tickCount":52,"tickSize":4,"labels":false,"title":null,"grid":false}},
"color":{"field":"s","type":"nominal",
"scale":{"domain":["0","10","2.4","3.6","4.8","6.0","7.2","8.4","9.6","10.8","12","13.2","14.4","15.6","16.8","18.0","19.2","20.4","21.6"],
"range":["#6b2a6e","#8e3ad6","#5a3ef0","#2356f0","#2aa8f5","#2fe0e6","#3de03d","#92ee3a","#cff04e","#f6f65a","#ffb060","#ff8a5a","#ff4444","#ff3030","#ff1e1e","#f20a0a","#d82020","#b02020","#8b1c1c"]},
"legend":{"orient":"none","legendX":296,"legendY":356,"direction":"horizontal","title":"Absorbed dose (mJ/cm²):","titleFont":"Liberation Sans","titleFontSize":12.5,"titleFontWeight":"normal","titleColor":"#000","titlePadding":21,"columns":4,"gridAlign":"all","columnPadding":22.3,"rowPadding":1,"symbolType":"M-1,0H3","symbolSize":144,"symbolStrokeWidth":2,"labelFont":"Liberation Sans","labelFontSize":13.5,"labelColor":"#000","labelOffset":15,"fillColor":"#ffffff","strokeColor":"#000000","padding":4,"cornerRadius":0}}}}
],
"resolve":{"axis":{"x":"independent","y":"independent"}}
},
{
"layer":[
{"data":{"values":[{}]},"mark":{"type":"rect","color":"#c9c9c9"},
"encoding":{"x":{"datum":0.035,"type":"quantitative","scale":{"domain":[-12.207,2.74],"nice":false,"zero":false},"axis":null},"x2":{"datum":3.7},"y":{"datum":0.07,"type":"quantitative","scale":{"domain":[-12.25,7.316],"nice":false,"zero":false},"axis":null},"y2":{"datum":8.71}}},
{"data":{"values":[{}]},"mark":{"type":"rule","color":"#666","strokeWidth":1.2},
"encoding":{"x":{"datum":0.035,"type":"quantitative","scale":{"domain":[-12.207,2.74],"nice":false,"zero":false},"axis":null},"x2":{"datum":3.7},"y":{"datum":8.71,"type":"quantitative","scale":{"domain":[-12.25,7.316],"nice":false,"zero":false},"axis":null}}},
{"data":{"values":[{}]},"mark":{"type":"rule","color":"#111","strokeWidth":2.5},
"encoding":{"x":{"datum":0.035,"type":"quantitative","scale":{"domain":[-12.207,2.74],"nice":false,"zero":false},"axis":null},"x2":{"datum":3.7},"y":{"datum":0.07,"type":"quantitative","scale":{"domain":[-12.25,7.316],"nice":false,"zero":false},"axis":null}}},
{"data":{"name":"arcs"},"mark":{"type":"line","interpolate":"catmull-rom","color":"#555","strokeWidth":1},
"encoding":{"x":{"field":"c","type":"quantitative","scale":{"domain":[-12.207,2.74],"nice":false,"zero":false},"axis":null},"y":{"field":"r","type":"quantitative","scale":{"domain":[-12.25,7.316],"nice":false,"zero":false},"axis":null},"detail":{"field":"a","type":"nominal"},"order":{"field":"r","sort":"descending"}}},
{"data":{"name":"arcs"},"transform":[{"filter":"datum.r < 1.2"}],"mark":{"type":"point","shape":"triangle-right","angle":35,"filled":true,"color":"#222","size":14,"opacity":1},
"encoding":{"x":{"field":"c","type":"quantitative","scale":{"domain":[-12.207,2.74],"nice":false,"zero":false},"axis":null},"y":{"field":"r","type":"quantitative","scale":{"domain":[-12.25,7.316],"nice":false,"zero":false},"axis":null}}},
{"data":{"name":"dots"},"transform":[{"filter":"datum.c < 3 && datum.r < 8"}],"mark":{"type":"rule","color":"#333","strokeWidth":1,"yOffset":-6,"y2Offset":-15},
"encoding":{"x":{"field":"c","type":"quantitative","scale":{"domain":[-12.207,2.74],"nice":false,"zero":false},"axis":null},"y":{"field":"r","type":"quantitative","scale":{"domain":[-12.25,7.316],"nice":false,"zero":false},"axis":null},"y2":{"field":"r"}}},
{"data":{"name":"dots"},"transform":[{"filter":"datum.c < 3 && datum.r < 8"}],"mark":{"type":"point","shape":"triangle-up","filled":true,"color":"#222","size":10,"opacity":1,"yOffset":-16},
"encoding":{"x":{"field":"c","type":"quantitative","scale":{"domain":[-12.207,2.74],"nice":false,"zero":false},"axis":null},"y":{"field":"r","type":"quantitative","scale":{"domain":[-12.25,7.316],"nice":false,"zero":false},"axis":null}}},
{"data":{"name":"dots"},"transform":[{"filter":"datum.r === 1 && datum.c < 3"}],"mark":{"type":"rule","color":"#444","strokeWidth":1,"xOffset":9,"x2Offset":32},
"encoding":{"x":{"field":"c","type":"quantitative","scale":{"domain":[-12.207,2.74],"nice":false,"zero":false},"axis":null},"x2":{"field":"c"},"y":{"field":"r","type":"quantitative","scale":{"domain":[-12.25,7.316],"nice":false,"zero":false},"axis":null}}},
{"data":{"name":"dots"},"transform":[{"filter":"datum.r === 1 && datum.c < 3"}],"mark":{"type":"point","shape":"triangle-right","filled":true,"color":"#222","size":12,"opacity":1,"xOffset":32},
"encoding":{"x":{"field":"c","type":"quantitative","scale":{"domain":[-12.207,2.74],"nice":false,"zero":false},"axis":null},"y":{"field":"r","type":"quantitative","scale":{"domain":[-12.25,7.316],"nice":false,"zero":false},"axis":null}}},
{"data":{"name":"dots"},"transform":[{"filter":"datum.r > 1"}],"mark":{"type":"point","filled":true,"color":"#ff0000","size":72,"opacity":1},
"encoding":{"x":{"field":"c","type":"quantitative","scale":{"domain":[-12.207,2.74],"nice":false,"zero":false},"axis":null},"y":{"field":"r","type":"quantitative","scale":{"domain":[-12.25,7.316],"nice":false,"zero":false},"axis":null}}},
{"data":{"name":"dots"},"transform":[{"filter":"datum.r === 1"}],"mark":{"type":"point","filled":true,"fill":"#ff0000","stroke":"#1f1fe6","strokeWidth":3,"size":78,"opacity":1},
"encoding":{"x":{"field":"c","type":"quantitative","scale":{"domain":[-12.207,2.74],"nice":false,"zero":false},"axis":null},"y":{"field":"r","type":"quantitative","scale":{"domain":[-12.25,7.316],"nice":false,"zero":false},"axis":null}}},
{"data":{"name":"dots"},"transform":[{"filter":"datum.r > 1 && datum.c < 3"}],"mark":{"type":"text","align":"right","baseline":"middle","dx":-5,"fontSize":9.5,"color":"#333","font":"Liberation Sans"},
"encoding":{"x":{"field":"c","type":"quantitative","scale":{"domain":[-12.207,2.74],"nice":false,"zero":false},"axis":null},"y":{"field":"r","type":"quantitative","scale":{"domain":[-12.25,7.316],"nice":false,"zero":false},"axis":null},"text":{"field":"t"}}},
{"data":{"name":"dots"},"transform":[{"filter":"datum.r === 1 && datum.c < 3"}],"mark":{"type":"text","align":"center","baseline":"middle","dy":13,"fontSize":9.5,"color":"#333","font":"Liberation Sans"},
"encoding":{"x":{"field":"c","type":"quantitative","scale":{"domain":[-12.207,2.74],"nice":false,"zero":false},"axis":null},"y":{"field":"r","type":"quantitative","scale":{"domain":[-12.25,7.316],"nice":false,"zero":false},"axis":null},"text":{"field":"t"}}},
{"data":{"values":[{}]},"mark":{"type":"text","text":"OPPE scan","font":"Lato","fontSize":28,"align":"center","baseline":"alphabetic","color":"#000"},
"encoding":{"x":{"datum":1.862,"type":"quantitative","scale":{"domain":[-12.207,2.74],"nice":false,"zero":false},"axis":null},"y":{"datum":-1.81,"type":"quantitative","scale":{"domain":[-12.25,7.316],"nice":false,"zero":false},"axis":null}}}
]
}
],
"resolve":{"scale":{"x":"independent","y":"independent"}}
}
